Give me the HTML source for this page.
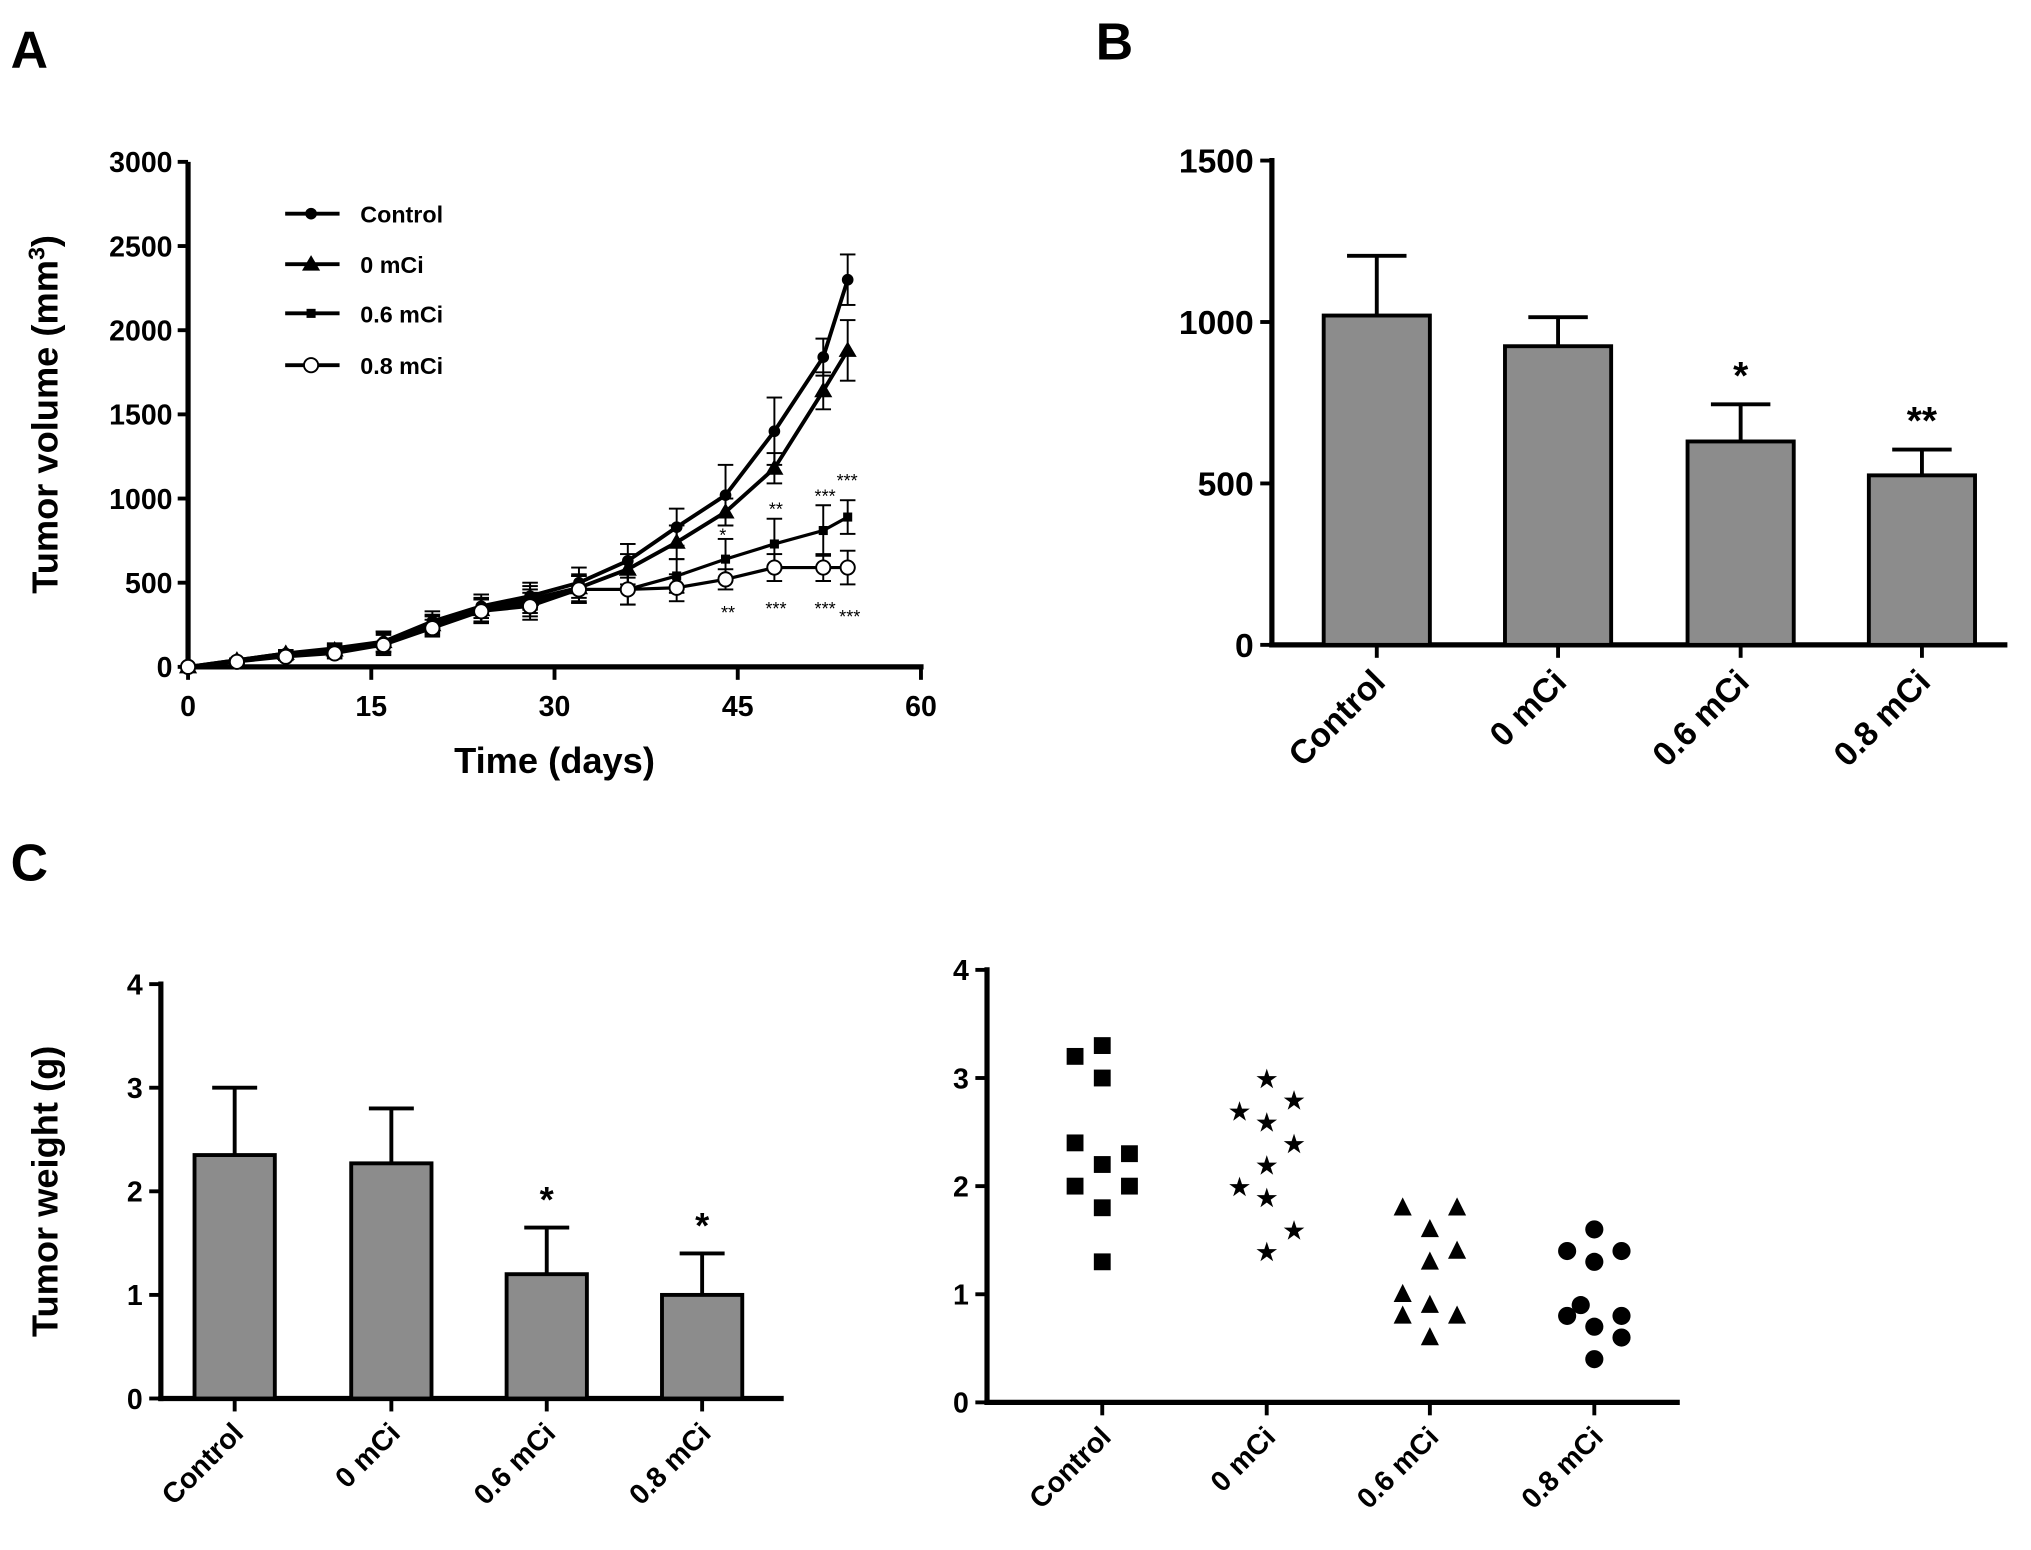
<!DOCTYPE html>
<html><head><meta charset="utf-8"><style>
html,body{margin:0;padding:0;background:#fff}
svg{display:block;font-family:"Liberation Sans",Arial,sans-serif;font-weight:bold}
</style></head><body>
<svg id="fig" width="2031" height="1550" viewBox="0 0 1568 1197" xmlns="http://www.w3.org/2000/svg">
<text x="8" y="52" font-size="40">A</text>
<text x="846" y="46" font-size="40">B</text>
<text x="8" y="680" font-size="40">C</text>
<g id="gA"></g>
<g id="gB"></g>
<g id="gC"></g>
<g id="gD"></g>
</svg>
<script>
const days=[0,4,8,12,16,20,24,28,32,36,40,44,48,52,54];
const seriesNames=["Control","0 mCi","0.6 mCi","0.8 mCi"];
const ctrlVals=[0,40,80,110,150,270,360,420,500,630,830,1020,1400,1840,2300];
const ctrlErr=[0,10,20,30,60,60,70,80,90,100,110,180,200,110,150];
const zeroVals=[0,40,80,100,150,250,340,400,470,580,740,920,1180,1640,1880];
const zeroErr=[0,10,20,30,60,60,70,80,80,90,100,80,90,110,180];
const sixVals=[0,30,70,90,140,250,330,380,460,460,540,640,730,810,890];
const sixErr=[0,10,20,30,60,50,70,80,80,90,100,120,150,150,100];
const eightVals=[0,30,60,80,130,230,330,360,460,460,470,520,590,590,590];
const eightErr=[0,10,20,30,60,50,70,80,80,90,80,60,80,80,100];
const yTicksA=[0,500,1000,1500,2000,2500,3000];
const xTicksA=[0,15,30,45,60];
const barCats=["Control","0 mCi","0.6 mCi","0.8 mCi"];
const bVals=[1020,925,630,525];
const bErr=[185,90,115,80];
const bStars=["","","*","**"];
const yTicksB=[0,500,1000,1500];
const cVals=[2.35,2.27,1.2,1.0];
const cErr=[0.65,0.53,0.45,0.4];
const cStars=["","","*","*"];
const yTicksC=[0,1,2,3,4];
const ctrlPts=[[-1,3.2],[0,3.3],[0,3.0],[-1,2.4],[0,2.2],[1,2.3],[-1,2.0],[1,2.0],[0,1.8],[0,1.3]];
const zeroPts=[[0,3.0],[-1,2.7],[1,2.8],[0,2.6],[1,2.4],[0,2.2],[-1,2.0],[0,1.9],[1,1.6],[0,1.4]];
const sixPts=[[-1,1.8],[1,1.8],[0,1.6],[1,1.4],[0,1.3],[-1,1.0],[0,0.9],[-1,0.8],[1,0.8],[0,0.6]];
const eightPts=[[0,1.6],[-1,1.4],[1,1.4],[0,1.3],[-0.5,0.9],[-1,0.8],[1,0.8],[0,0.7],[1,0.6],[0,0.4]];

const NS="http://www.w3.org/2000/svg";
function mk(p,tag,at,txt){const e=document.createElementNS(NS,tag);for(const k in at)e.setAttribute(k,at[k]);if(txt!==undefined)e.textContent=txt;p.appendChild(e);return e;}

// Panel A
const gA=document.getElementById('gA');
const xA=d=>145+d*(566/60), yA=v=>515-v*(390/3000);
let e=mk(gA,'line',{x1:145,y1:yA(3000),x2:145,y2:517,stroke:'#000','stroke-width':4});


e=mk(gA,'line',{x1:143,y1:515,x2:713,y2:515,stroke:'#000','stroke-width':4});


yTicksA.forEach(t=>{mk(gA,'line',{x1:137,y1:yA(t),x2:145,y2:yA(t),stroke:'#000','stroke-width':3});
 e=mk(gA,'text',{x:133,y:yA(t)+8,'font-size':22,'text-anchor':'end'},t);
 
 });
xTicksA.forEach(t=>{mk(gA,'line',{x1:xA(t),y1:515,x2:xA(t),y2:525,stroke:'#000','stroke-width':3});
 e=mk(gA,'text',{x:xA(t),y:553,'font-size':22,'text-anchor':'middle'},t);
 
 });
e=mk(gA,'text',{x:428,y:597,'font-size':28,'text-anchor':'middle'},'Time (days)');


e=mk(gA,'text',{transform:'translate(44,320) rotate(-90)','font-size':28,'text-anchor':'middle'});
e.innerHTML='Tumor volume (mm<tspan font-size="18" dy="-10">3</tspan><tspan dy="10">)</tspan>';


function marker(g,type,x,y){
 if(type==0)return mk(g,'circle',{cx:x,cy:y,r:4.5,fill:'#000'});
 if(type==1)return mk(g,'path',{d:`M${x} ${y-7}L${x+7} ${y+5}L${x-7} ${y+5}Z`,fill:'#000'});
 if(type==2)return mk(g,'rect',{x:x-3.5,y:y-3.5,width:7,height:7,fill:'#000'});
 return mk(g,'circle',{cx:x,cy:y,r:5.5,fill:'#fff',stroke:'#000','stroke-width':1.5});
}
const allV=[ctrlVals,zeroVals,sixVals,eightVals], allE=[ctrlErr,zeroErr,sixErr,eightErr];
allV.forEach((vals,si)=>{
 const g=mk(gA,'g',{});
 
 
 vals.forEach((v,i)=>{const x=xA(days[i]),er=allE[si][i];if(er>0){
  mk(g,'line',{x1:x,y1:yA(v+er),x2:x,y2:yA(v-er),stroke:'#000','stroke-width':1.5});
  mk(g,'line',{x1:x-6,y1:yA(v+er),x2:x+6,y2:yA(v+er),stroke:'#000','stroke-width':1.5});
  mk(g,'line',{x1:x-6,y1:yA(v-er),x2:x+6,y2:yA(v-er),stroke:'#000','stroke-width':1.5});}});
 mk(g,'polyline',{points:vals.map((v,i)=>xA(days[i])+','+yA(v)).join(' '),fill:'none',stroke:'#000','stroke-width':si<2?3:2.5});
 vals.forEach((v,i)=>{const m=marker(g,si,xA(days[i]),yA(v));
  
  });
 // legend
 const ly=[165,204,242,282][si];
 const lg=mk(gA,'g',{});
 
 
 mk(lg,'line',{x1:220,y1:ly,x2:262,y2:ly,stroke:'#000','stroke-width':3});
 marker(lg,si,240,ly);
 mk(lg,'text',{x:278,y:ly+7,'font-size':18},seriesNames[si]);
});
[[44,1020,'*',-8],[48,870,'**',-12],[52,920,'***',0],[54,980,'***',0]].forEach(s=>{});
[["*",558,418],["**",599,398],["***",637,388],["***",654,376],["**",562,478],["***",599,475],["***",637,475],["***",656,481]].forEach(s=>{
 e=mk(gA,'text',{x:s[1],y:s[2],'font-size':14,'text-anchor':'middle','font-weight':'normal'},s[0]);
 
 });

// bar chart helper
function barChart(g,ax,ay0,ax1,scale,ticks,cats,vals,errs,stars,centers,bw,fs,starFs,tickFs,catFs,yoff){
 const y=v=>ay0-v*scale;
 e=mk(g,'line',{x1:ax,y1:y(ticks[ticks.length-1])-2,x2:ax,y2:ay0+2,stroke:'#000','stroke-width':4});
 
 
 e=mk(g,'line',{x1:ax-2,y1:ay0,x2:ax1,y2:ay0,stroke:'#000','stroke-width':4});
 
 
 ticks.forEach(t=>{mk(g,'line',{x1:ax-9,y1:y(t),x2:ax,y2:y(t),stroke:'#000','stroke-width':3});
  e=mk(g,'text',{x:ax-14,y:y(t)+tickFs*0.36,'font-size':tickFs,'text-anchor':'end'},t);
  
  });
 cats.forEach((c,i)=>{const cx=centers[i];
  if(vals){const v=vals[i],er=errs[i];
   mk(g,'line',{x1:cx,y1:y(v),x2:cx,y2:y(v+er),stroke:'#000','stroke-width':3});
   mk(g,'line',{x1:cx-bw*0.28,y1:y(v+er),x2:cx+bw*0.28,y2:y(v+er),stroke:'#000','stroke-width':3});
   e=mk(g,'rect',{x:cx-bw/2,y:y(v),width:bw,height:v*scale,fill:'#8c8c8c',stroke:'#000','stroke-width':3});
   
   
   if(stars[i]){e=mk(g,'text',{x:cx,y:y(v+er)-12,'font-size':starFs,'text-anchor':'middle'},stars[i]);
    
    }}
  mk(g,'line',{x1:cx,y1:ay0,x2:cx,y2:ay0+10,stroke:'#000','stroke-width':3});
  e=mk(g,'text',{transform:`translate(${cx+8},${ay0+yoff}) rotate(-45)`,'font-size':catFs,'text-anchor':'end'},c);
  
  });
 return y;
}
barChart(document.getElementById('gB'),982,498,1550,374/1500,yTicksB,barCats,bVals,bErr,bStars,[1063,1203,1344,1484],82,0,30,26,26,30);
const gC=document.getElementById('gC');
barChart(gC,124,1080,605,80,yTicksC,barCats,cVals,cErr,cStars,[181,302,422,542],62,0,28,22,22,28);
e=mk(gC,'text',{transform:'translate(44,920) rotate(-90)','font-size':28,'text-anchor':'middle'},'Tumor weight (g)');



// scatter
const gD=document.getElementById('gD');
const yD=barChart(gD,762,1083,1297,83.5,yTicksC,barCats,null,null,null,[851,978,1104,1231],0,0,0,22,22,28);
const pts=[ctrlPts,zeroPts,sixPts,eightPts], cxs=[851,978,1104,1231];
pts.forEach((arr,ci)=>{arr.forEach(p=>{const x=cxs[ci]+p[0]*21,y=yD(p[1]);let m;
 if(ci==0)m=mk(gD,'rect',{x:x-6.5,y:y-6.5,width:13,height:13,fill:'#000'});
 else if(ci==1)m=mk(gD,'text',{x:x,y:y+7,'font-size':18,'text-anchor':'middle'},'★');
 else if(ci==2)m=mk(gD,'path',{d:`M${x} ${y-8}L${x+7} ${y+6}L${x-7} ${y+6}Z`,fill:'#000'});
 else m=mk(gD,'circle',{cx:x,cy:y,r:7,fill:'#000'});
 
 });});
</script>
</body></html>
